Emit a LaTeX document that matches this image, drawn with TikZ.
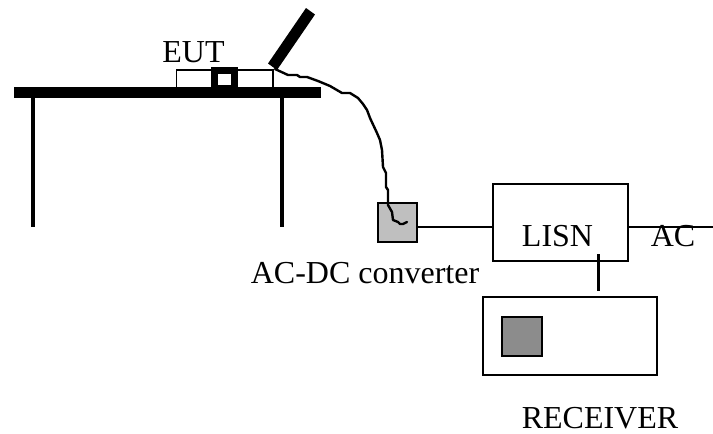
\documentclass[tikz,border=0pt]{standalone}
\usepackage{fontspec}
\setmainfont{Liberation Serif}
\definecolor{convgray}{HTML}{BFBFBF}
\definecolor{screengray}{HTML}{8C8C8C}
\tikzset{
  box/.style={draw=black,line width=1.9pt,fill=white,inner sep=0pt,outer sep=0pt},
  wire/.style={draw=black,line width=1.9pt},
  lab/.style={font=\fontsize{24}{28}\selectfont,inner sep=0pt,anchor=base},
  solid black/.style={fill=black,draw=none}
}
\begin{document}
\begin{tikzpicture}[x=0.75pt,y=-0.75pt]
\useasboundingbox (0,0) rectangle (713,433);
% table
\fill[solid black] (14,87) rectangle (320.5,98);
\fill[solid black] (30.5,98) rectangle (35,227);
\fill[solid black] (279.5,98) rectangle (284,227);
% EUT
\draw[black,line width=1.4pt,fill=white] (176.5,70) rectangle (273,87.5);
\fill[solid black] (211,66.5) rectangle (238,88);
\fill[white] (218,74) rectangle (231,85);
\fill[solid black] (268,63.5) -- (306,8) -- (315,14.5) -- (277,70) -- cycle;
% boxes
\node[box,fill=convgray,minimum width=39*0.75pt,minimum height=39*0.75pt] (conv) at (397.5,222.5) {};
\node[box,minimum width=135*0.75pt,minimum height=77*0.75pt] (lisn) at (560.5,222.5) {};
\node[box,minimum width=174*0.75pt,minimum height=78*0.75pt] (recv) at (570,336) {};
\node[box,fill=screengray,minimum width=40*0.75pt,minimum height=39*0.75pt] (screen) at (522,336.5) {};
% connectors
\coordinate (acend) at (713,227);
\coordinate (tapTop) at (598.5,254);
\coordinate (tapBot) at (598.5,291);
\draw[wire] (conv.east |- 0,227) -- (lisn.west |- 0,227);
\draw[wire] (lisn.east |- 0,227) -- (acend);
\draw[wire] (tapTop) -- (tapBot);
% cable
\coordinate (cableStart) at (275,69);
\coordinate (cableEnd) at (407,222);
\draw[black,line width=1.8pt,line join=round,line cap=round]
 (cableStart) -- (288,75) -- (297,75) -- (300,77) -- (307,77) -- (318,81) -- (330,86) -- (342,93) -- (350,93) -- (358,98) -- (363,104) -- (367,110) -- (370,118) -- (377,133) -- (380,140) -- (382,150) -- (383,167) -- (386,173) -- (386,187) -- (388,190) -- (388,205) -- (392,212) -- (393,220) -- (398,222) -- (400,224) -- (403,224) -- (cableEnd);
% labels
\node[lab] (eut) at (193.5,62) {EUT};
\node[lab] (lisnl) at (557.5,246) {LISN};
\node[lab] (acl) at (673,246) {AC};
\node[lab] (convl) at (365,283.5) {AC-DC converter};
\node[lab] (recvl) at (600,428.5) {RECEIVER};
\end{tikzpicture}
\end{document}
